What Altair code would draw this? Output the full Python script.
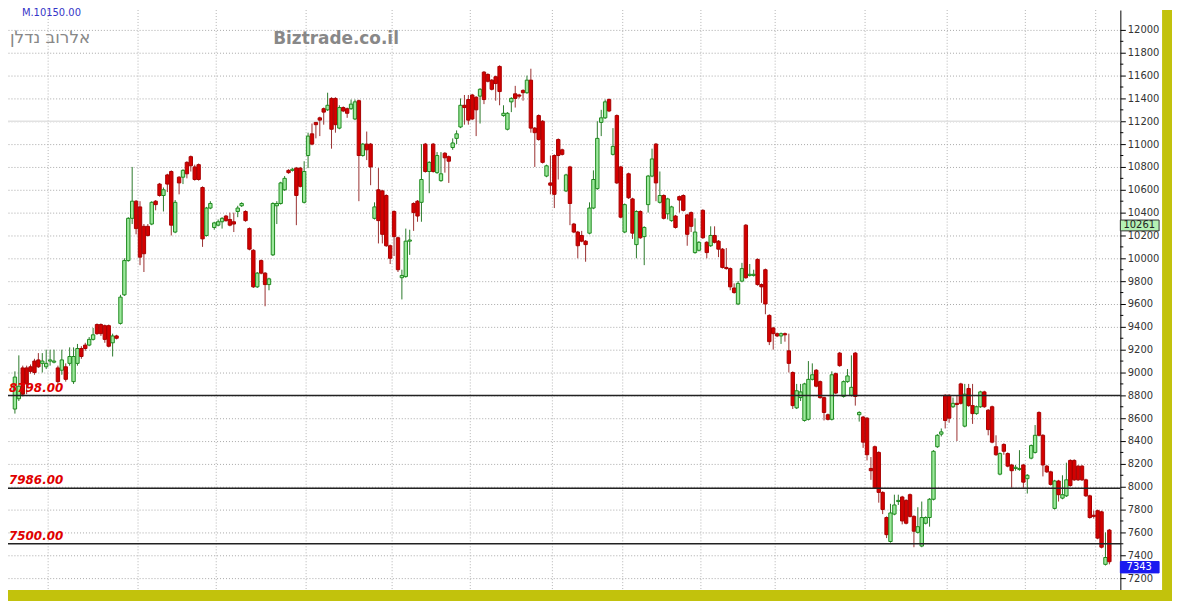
import altair as alt
import pandas as pd

# ---------------- data (daily candles) ----------------
opens = [
    8680, 8770, 9040, 9040, 9050, 9100, 9110, 9080, 9050, 9100,
    9090, 9040, 9020, 9050, 9080, 8920, 9080, 9210, 9240, 9240,
    9290, 9420, 9420, 9410, 9410, 9260, 9320, 9430, 9680, 9980,
    10350, 10500, 10450, 10280, 10280, 10300, 10500, 10650, 10550, 10730,
    10760, 10230, 10710, 10710, 10840, 10890, 10800, 10820, 10620, 10200,
    10440, 10270, 10290, 10320, 10370, 10340, 10320, 10410, 10460, 10410,
    10260, 10070, 9750, 9980, 9870, 9770, 10030, 10460, 10480, 10600,
    10770, 10770, 10790, 10790, 10490, 10900, 11090, 11190, 11230, 11310,
    11300, 11400, 11400, 11140, 11320, 11310, 11310, 11220, 11380, 10900,
    11000, 11000, 10350, 10600, 10590, 10550, 10110, 10410, 10180, 9830,
    9840, 10150, 10480, 10500, 10490, 11000, 10760, 11000, 10750, 10680,
    10920, 10890, 10970, 11050, 11150, 11340, 11390, 11430, 11410, 11420,
    11630, 11610, 11560, 11590, 11680, 11250, 11130, 11370, 11440, 11430,
    11470, 11450, 11560, 11140, 11250, 11200, 10720, 10660, 10900, 11040,
    10950, 10590, 10800, 10300, 10230, 10200, 10150, 10220, 10440, 10610,
    11190, 11230, 11390, 10910, 11250, 10800, 10230, 10740, 10520, 10120,
    10410, 10190, 10470, 10720, 11000, 10490, 10550, 10390, 10330, 10370,
    10540, 10550, 10380, 10400, 10050, 10070, 10420, 10140, 10110, 10200,
    10150, 10080, 9920, 9910, 9740, 9600, 9800, 10290, 9850, 9850,
    9990, 9770, 9900, 9500, 9390, 9340, 9320, 9340, 9190, 9000,
    8690, 8780, 8580, 8590, 8940, 9020, 8920, 8780, 8630, 8590,
    8990, 9170, 8790, 8920, 8800, 9170, 8630, 8610, 8600, 8160,
    8350, 8300, 7950, 7730, 7520, 7760, 7870, 7910, 7880, 7930,
    7740, 7600, 7480, 7680, 7730, 7890, 8350, 8460, 8800, 8800,
    8700, 8730, 8900, 8530, 8860, 8710, 8640, 8700, 8830, 8670,
    8700, 8350, 8110, 8370, 8290, 8190, 8160, 8150, 8190, 8070,
    8250, 8300, 8650, 8450, 8180, 8130, 7810, 8050, 7900, 7920,
    8230, 8230, 8180, 8180, 8060, 7920, 7750, 7790, 7780, 7320,
    7620,
]
highs = [
    9010, 9150, 9060, 9060, 9070, 9120, 9170, 9170, 9200, 9200,
    9200, 9060, 9200, 9080, 9220, 9220, 9250, 9230, 9260, 9310,
    9390, 9430, 9430, 9420, 9420, 9340, 9330, 9680, 10000, 10360,
    10800, 10510, 10500, 10300, 10300, 10500, 10510, 10660, 10620, 10740,
    10770, 10510, 10720, 10780, 10850, 10900, 10820, 10830, 10630, 10450,
    10500, 10320, 10340, 10360, 10380, 10400, 10400, 10460, 10490, 10420,
    10270, 10080, 9880, 9990, 9880, 9830, 10490, 10500, 10670, 10720,
    10780, 10790, 10800, 10800, 10850, 11100, 11180, 11190, 11240, 11320,
    11450, 11410, 11410, 11340, 11330, 11320, 11390, 11390, 11390, 11010,
    11110, 11010, 10490, 10790, 10600, 10560, 10120, 10420, 10190, 9900,
    10260, 10250, 10490, 10510, 11000, 11010, 10850, 11010, 10930, 10930,
    10930, 10900, 11050, 11120, 11400, 11430, 11430, 11440, 11420, 11490,
    11640, 11620, 11570, 11600, 11690, 11340, 11280, 11410, 11510, 11440,
    11480, 11600, 11660, 11150, 11260, 11210, 10820, 10900, 10910, 11050,
    10960, 10740, 10810, 10310, 10240, 10240, 10160, 10490, 10770, 11200,
    11300, 11390, 11400, 11140, 11260, 10810, 10480, 10750, 10530, 10420,
    10420, 10280, 10730, 10960, 11010, 10760, 10560, 10530, 10460, 10380,
    10550, 10560, 10390, 10410, 10350, 10150, 10430, 10150, 10280, 10280,
    10160, 10090, 10090, 9920, 9780, 9800, 9960, 10300, 9950, 9900,
    10000, 9780, 9910, 9510, 9400, 9350, 9350, 9350, 9340, 9010,
    8900, 8900, 8910, 9100, 9080, 9030, 8930, 8790, 8640, 9010,
    9000, 9180, 8930, 9030, 9150, 9180, 8660, 8620, 8610, 8260,
    8360, 8310, 7960, 7740, 7850, 7930, 7930, 7920, 7890, 7940,
    7750, 7820, 7870, 7740, 7900, 8320, 8460, 8510, 8810, 8810,
    8780, 8800, 8910, 8900, 8900, 8900, 8710, 8840, 8840, 8680,
    8710, 8450, 8300, 8380, 8300, 8200, 8190, 8320, 8200, 8110,
    8370, 8540, 8660, 8460, 8190, 8140, 8060, 8060, 8100, 8210,
    8240, 8240, 8190, 8190, 8070, 7930, 7790, 7800, 7790, 7600,
    7630,
]
lows = [
    8640, 8750, 8790, 8810, 8990, 8980, 9040, 9000, 9030, 9060,
    9080, 8900, 8980, 8920, 9060, 8900, 9060, 9120, 9190, 9230,
    9280, 9330, 9320, 9260, 9220, 9140, 9290, 9420, 9670, 9970,
    10300, 10210, 9940, 9880, 10190, 10290, 10420, 10540, 10410, 10580,
    10200, 10220, 10560, 10650, 10700, 10760, 10680, 10680, 10100, 10190,
    10430, 10250, 10280, 10260, 10320, 10280, 10230, 10360, 10450, 10320,
    10070, 9740, 9740, 9860, 9580, 9720, 10020, 10300, 10470, 10590,
    10740, 10760, 10290, 10620, 10480, 10790, 10990, 11050, 11070, 11170,
    11290, 10960, 11100, 11130, 11280, 11230, 11300, 11210, 10500, 10890,
    10860, 10640, 10340, 10130, 10130, 10100, 9950, 10020, 9880, 9640,
    9830, 10030, 10240, 10320, 10320, 10750, 10570, 10750, 10740, 10670,
    10750, 10660, 10950, 11000, 11140, 11170, 11170, 11210, 11070, 11180,
    11350, 11540, 11470, 11380, 11340, 11240, 11120, 11280, 11320, 11400,
    11380, 11440, 11100, 10800, 11030, 10830, 10710, 10560, 10440, 10690,
    10900, 10580, 10290, 10220, 10000, 10140, 9970, 10210, 10430, 10600,
    11070, 11220, 11280, 10900, 10650, 10350, 10220, 10520, 10170, 10000,
    10170, 9940, 10400, 10710, 10500, 10480, 10340, 10340, 10320, 10260,
    10400, 10410, 10110, 10230, 10040, 10060, 10170, 10000, 10100, 10130,
    10010, 9910, 9900, 9720, 9690, 9590, 9790, 9820, 9840, 9840,
    9760, 9610, 9510, 9240, 9200, 9310, 9250, 9270, 9000, 8680,
    8680, 8750, 8570, 8580, 8930, 8870, 8770, 8580, 8580, 8580,
    8810, 9050, 8780, 8910, 8790, 8710, 8570, 8340, 8230, 8060,
    7980, 7860, 7760, 7550, 7510, 7750, 7840, 7670, 7670, 7730,
    7470, 7590, 7470, 7670, 7650, 7880, 8340, 8440, 8510, 8560,
    8690, 8400, 8720, 8520, 8700, 8550, 8630, 8690, 8690, 8450,
    8380, 8270, 8100, 8280, 8170, 7990, 8140, 8140, 7990, 7940,
    8240, 8290, 8440, 8090, 8120, 8010, 7800, 7870, 7890, 7910,
    8000, 8050, 8050, 8050, 7910, 7720, 7720, 7540, 7460, 7310,
    7320,
]
closes = [
    8960, 8880, 8810, 8900, 9010, 9000, 9050, 9100, 9080, 9110,
    9100, 8920, 9110, 8940, 9140, 9140, 9210, 9140, 9210, 9290,
    9330, 9340, 9340, 9290, 9230, 9320, 9300, 9660, 9980, 10350,
    10500, 10260, 10010, 10040, 10200, 10490, 10470, 10550, 10600, 10650,
    10290, 10490, 10660, 10770, 10740, 10810, 10690, 10690, 10170, 10440,
    10480, 10310, 10320, 10350, 10330, 10290, 10300, 10440, 10480, 10330,
    10080, 9750, 9870, 9870, 9770, 9820, 10480, 10480, 10660, 10700,
    10750, 10780, 10550, 10630, 10760, 11070, 11000, 11170, 11210, 11280,
    11340, 11130, 11170, 11320, 11290, 11270, 11350, 11370, 10900, 11000,
    10950, 10800, 10450, 10330, 10210, 10110, 10000, 10190, 9900, 9850,
    10150, 10160, 10400, 10370, 10690, 10760, 10840, 10760, 10900, 10740,
    10880, 10850, 11010, 11090, 11340, 11320, 11210, 11220, 11300, 11480,
    11390, 11550, 11480, 11530, 11460, 11270, 11270, 11400, 11400, 11420,
    11450, 11560, 11140, 11100, 11040, 10840, 10810, 10640, 10560, 10900,
    10910, 10730, 10480, 10230, 10110, 10150, 10120, 10440, 10690, 11050,
    11230, 11370, 11290, 10980, 10660, 10360, 10470, 10530, 10220, 10410,
    10180, 10270, 10720, 10870, 10660, 10550, 10350, 10520, 10450, 10270,
    10510, 10420, 10210, 10280, 10230, 10140, 10180, 10050, 10200, 10140,
    10080, 9920, 9910, 9750, 9700, 9780, 9910, 9830, 9860, 9860,
    9770, 9750, 9600, 9270, 9340, 9320, 9340, 9330, 9080, 8710,
    8840, 8830, 8900, 8940, 8980, 8880, 8780, 8650, 8590, 8980,
    8820, 9060, 8920, 8970, 8870, 8790, 8650, 8390, 8280, 8140,
    7990, 7950, 7800, 7580, 7770, 7840, 7880, 7700, 7680, 7740,
    7610, 7650, 7730, 7730, 7890, 8310, 8450, 8480, 8580, 8600,
    8730, 8720, 8730, 8810, 8710, 8640, 8700, 8830, 8700, 8500,
    8390, 8280, 8290, 8310, 8180, 8140, 8170, 8160, 8040, 8100,
    8360, 8450, 8450, 8190, 8130, 8020, 8050, 7930, 7930, 8060,
    8010, 8060, 8060, 8060, 7920, 7730, 7740, 7550, 7470, 7380,
    7343,
]

# first trading day index of each new month (vertical grid lines)
month_bounds = [8.5, 31.5, 51.5, 74.5, 96.5, 116.5, 137.5, 155.5,
                175.5, 194.5, 217.5, 238.5, 258.5, 276.5]

y_ticks = [7200, 7400, 7600, 7800, 8000, 8200, 8400, 8600, 8800, 9000,
           9200, 9400, 9600, 9800, 10000, 10200, 10400, 10600, 10800,
           11000, 11200, 11400, 11600, 11800, 12000]
y_minor = [7300, 7500, 7700, 7900, 8100, 8300, 8500, 8700, 8900, 9100,
           9300, 9500, 9700, 9900, 10100, 10300, 10500, 10700, 10900,
           11100, 11300, 11500, 11700, 11900]

levels = [8798, 7986, 7500]
level_labels = ["8798.00", "7986.00", "7500.00"]

last_price = "7343"
ma_price = "10261"
box_top = [7345, 10335]
box_bot = [7245, 10240]
box_mid = [7295, 10288]

# ---------------- chart ----------------
n = len(opens)
df = pd.DataFrame({"i": list(range(n)), "open": opens, "high": highs,
                   "low": lows, "close": closes})
df["dir"] = ["up" if c >= o else "down" for o, c in zip(opens, closes)]

xs = alt.Scale(domain=[-0.5, 281.54], nice=False, zero=False)
ys = alt.Scale(domain=[7095, 12174], nice=False, zero=False)
OLIVE = "#c2c20c"

yaxis = alt.Axis(orient="right", values=y_ticks, format="d", title=None,
                 grid=True, gridDash=[1, 2], gridColor="#a8a8a8", gridWidth=1,
                 domainColor="#000000", domainWidth=1, tickColor="#000000",
                 tickSize=5, labelFont="DejaVu Sans", labelFontSize=10,
                 labelColor="#333333", labelPadding=2)


def Y(field):
    return alt.Y(field, scale=ys, axis=yaxis)


base = alt.Chart(df)

wicks = base.mark_rule(strokeWidth=1).encode(
    x=alt.X("i:Q", scale=xs, axis=None),
    y=Y("low:Q"),
    y2="high:Q",
    color=alt.Color("dir:N", scale=alt.Scale(domain=["up", "down"],
                    range=["#2b7a2b", "#9a3030"]), legend=None),
)

bodies = base.mark_bar(size=3.4, strokeWidth=1).encode(
    x=alt.X("i:Q", scale=xs, axis=None),
    y=Y("open:Q"),
    y2="close:Q",
    fill=alt.Fill("dir:N", scale=alt.Scale(domain=["up", "down"],
                  range=["#9ce89c", "#d40000"]), legend=None),
    stroke=alt.Stroke("dir:N", scale=alt.Scale(domain=["up", "down"],
                      range=["#1e8a1e", "#a80000"]), legend=None),
)

vgrid = alt.Chart(pd.DataFrame({"i": month_bounds})).mark_rule(
    color="#b4b4b4", strokeDash=[1, 2], strokeWidth=1
).encode(x=alt.X("i:Q", scale=xs, axis=None))

hband = alt.Chart(pd.DataFrame({"v": [11200]})).mark_rule(
    color="#e2e2e2", strokeWidth=1.5
).encode(y=Y("v:Q"))

minor = alt.Chart(pd.DataFrame({"v": y_minor})).mark_rule(
    color="#000000", strokeWidth=1
).encode(y=Y("v:Q"), x=alt.value(1120), x2=alt.value(1123))

lv = alt.Chart(pd.DataFrame({"v": levels, "t": level_labels}))
lv_rule = lv.mark_rule(color="#222222", strokeWidth=1.5).encode(y=Y("v:Q"))
lv_text = lv.mark_text(align="left", baseline="alphabetic", dy=-4,
                       font="DejaVu Sans", fontSize=12, fontStyle="italic",
                       fontWeight="bold", color="#e00000").encode(
    x=alt.value(1), y=Y("v:Q"), text="t:N")

one = alt.Chart(pd.DataFrame({"a": [0]}))
heb = one.mark_text(align="left", baseline="alphabetic", font="DejaVu Sans",
                    fontSize=17, color="#888888", text="אלרוב נדלן").encode(
    x=alt.value(2), y=alt.value(33))
site = one.mark_text(align="left", baseline="alphabetic", font="DejaVu Sans",
                     fontSize=17, fontWeight="bold", color="#888888",
                     text="Biztrade.co.il").encode(x=alt.value(267), y=alt.value(34))
mtext = one.mark_text(align="left", baseline="alphabetic", font="DejaVu Sans",
                      fontSize=10, color="#3535c8", text="M.10150.00").encode(
    x=alt.value(14), y=alt.value(6))

right_strip = one.mark_rect(color=OLIVE).encode(
    x=alt.value(1162), x2=alt.value(1172), y=alt.value(0), y2=alt.value(595))
bottom_strip = one.mark_rect(color=OLIVE).encode(
    x=alt.value(0), x2=alt.value(1172), y=alt.value(584), y2=alt.value(595))

boxes = pd.DataFrame({"top": box_top, "bot": box_bot, "mid": box_mid,
                      "t": [last_price, ma_price], "kind": ["last", "ma"]})
bx = alt.Chart(boxes)
box_rect = bx.mark_rect(strokeWidth=1).encode(
    x=alt.value(1120), x2=alt.value(1159),
    y=Y("top:Q"), y2="bot:Q",
    fill=alt.Fill("kind:N", scale=alt.Scale(domain=["last", "ma"],
                  range=["#1a1af0", "#b4f0b4"]), legend=None),
    stroke=alt.Stroke("kind:N", scale=alt.Scale(domain=["last", "ma"],
                      range=["#1a1af0", "#333333"]), legend=None),
)
box_text = bx.mark_text(align="center", baseline="middle", font="DejaVu Sans",
                        fontSize=10).encode(
    x=alt.value(1139), y=Y("mid:Q"), text="t:N",
    color=alt.Color("kind:N", scale=alt.Scale(domain=["last", "ma"],
                    range=["#ffffff", "#222222"]), legend=None),
)

chart = alt.layer(
    vgrid, hband, wicks, bodies, lv_rule, lv_text, heb, site, mtext,
    minor, right_strip, bottom_strip, box_rect, box_text
).resolve_scale(
    color="independent", fill="independent", stroke="independent"
).properties(
    width=1120, height=584,
    padding={"left": 0, "top": 0, "right": 52, "bottom": 11},
    autosize=alt.AutoSizeParams(type="none"),
    background="white",
).configure_view(stroke=None, fill="white")

chart.save("out.html", embed_options={"renderer": "svg", "actions": False})
